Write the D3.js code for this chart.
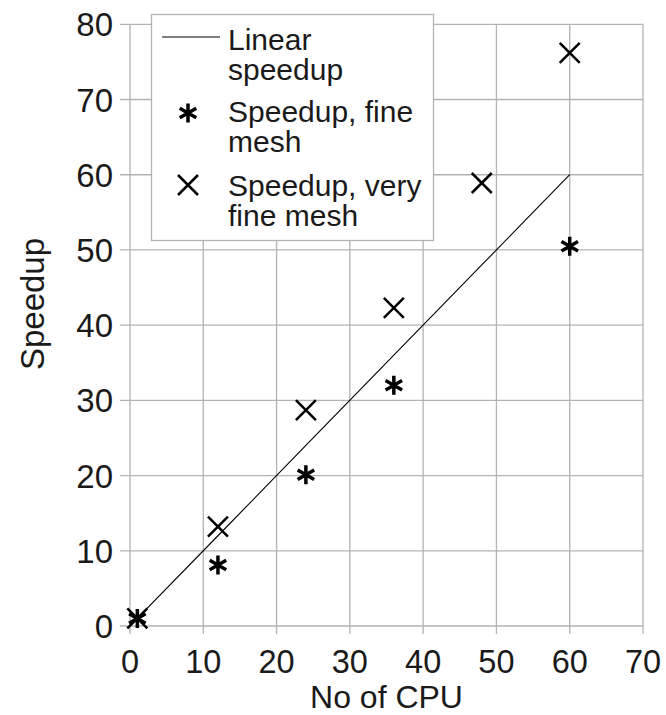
<!DOCTYPE html>
<html><head><meta charset="utf-8">
<script src="https://cdn.jsdelivr.net/npm/d3@7"></script>
<style>body{margin:0;background:#fff}svg{display:block}text{font-family:"Liberation Sans",Arial,sans-serif;fill:#1a1a1a}</style>
</head><body>
<script>
const xTicks = [0,10,20,30,40,50,60,70];
const yTicks = [0,10,20,30,40,50,60,70,80];
const linearX = [1,12,24,36,48,60];
const linearY = [1,12,24,36,48,60];
const fineX = [1,12,24,36,60];
const fineY = [1,8.1,20.1,32.0,50.5];
const vfineX = [1,12,24,36,48,60];
const vfineY = [1,13.2,28.7,42.3,58.9,76.2];
const legendLabels = [["Linear","speedup"],["Speedup, fine","mesh"],["Speedup, very","fine mesh"]];

const W=666,H=715;
const svg=d3.select("body").append("svg").attr("width",W).attr("height",H);
const x=d3.scaleLinear().domain([0,70]).range([130,643]);
const y=d3.scaleLinear().domain([0,80]).range([626,24.3]);
const grid="#b3b3b3";

// grid
svg.append("g").selectAll("line").data(xTicks).join("line")
  .attr("x1",d=>x(d)).attr("x2",d=>x(d)).attr("y1",y(80)).attr("y2",y(0)+8)
  .attr("stroke",grid).attr("stroke-width",1.3);
svg.append("g").selectAll("line").data(yTicks).join("line")
  .attr("x1",x(0)-10).attr("x2",x(70)).attr("y1",d=>y(d)).attr("y2",d=>y(d))
  .attr("stroke",grid).attr("stroke-width",1.3);

// tick labels
svg.append("g").selectAll("text").data(xTicks).join("text")
  .attr("x",d=>x(d)).attr("y",673).attr("text-anchor","middle")
  .attr("font-size",32.5).text(d=>d);
svg.append("g").selectAll("text").data(yTicks).join("text")
  .attr("x",113).attr("y",d=>y(d)+12).attr("text-anchor","end")
  .attr("font-size",33).text(d=>d);

svg.append("text").attr("x",x(35)).attr("y",708).attr("text-anchor","middle").attr("font-size",32).text("No of CPU");
svg.append("text").attr("transform","translate(44,304) rotate(-90)").attr("text-anchor","middle").attr("font-size",33).text("Speedup");

// linear line
svg.append("path").datum(linearX.map((d,i)=>[d,linearY[i]]))
  .attr("d",d3.line().x(d=>x(d[0])).y(d=>y(d[1])))
  .attr("fill","none").attr("stroke","#000").attr("stroke-width",1.1);

function asterisk(g){
  const r=9.5;
  const p=`M0,${-r}V${r}M${-r*0.87},${-r*0.5}L${r*0.87},${r*0.5}M${-r*0.87},${r*0.5}L${r*0.87},${-r*0.5}`;
  g.append("path").attr("d",p).attr("stroke","#000").attr("stroke-width",3.5).attr("fill","none");
}
function cross(g){
  const r=10;
  g.append("path").attr("d",`M${-r},${-r}L${r},${r}M${-r},${r}L${r},${-r}`).attr("stroke","#000").attr("stroke-width",2.5).attr("fill","none");
}
svg.append("g").selectAll("g").data(vfineX.map((d,i)=>[d,vfineY[i]])).join("g")
  .attr("transform",d=>`translate(${x(d[0])},${y(d[1])})`).each(function(){cross(d3.select(this));});
svg.append("g").selectAll("g").data(fineX.map((d,i)=>[d,fineY[i]])).join("g")
  .attr("transform",d=>`translate(${x(d[0])},${y(d[1])})`).each(function(){asterisk(d3.select(this));});

// legend
const lg=svg.append("g");
lg.append("rect").attr("x",151.5).attr("y",14.5).attr("width",282).attr("height",226).attr("fill","#fff").attr("stroke",grid).attr("stroke-width",1.3);
const base=[50,122,196];
legendLabels.forEach((lines,i)=>{
  lines.forEach((t,j)=>{
    lg.append("text").attr("x",228).attr("y",base[i]+j*30).attr("font-size",30).text(t);
  });
});
lg.append("line").attr("x1",162).attr("x2",220).attr("y1",37).attr("y2",37).attr("stroke","#000").attr("stroke-width",1.1);
asterisk(lg.append("g").attr("transform","translate(188,113)"));
cross(lg.append("g").attr("transform","translate(188,185)"));
</script>
</body></html>
